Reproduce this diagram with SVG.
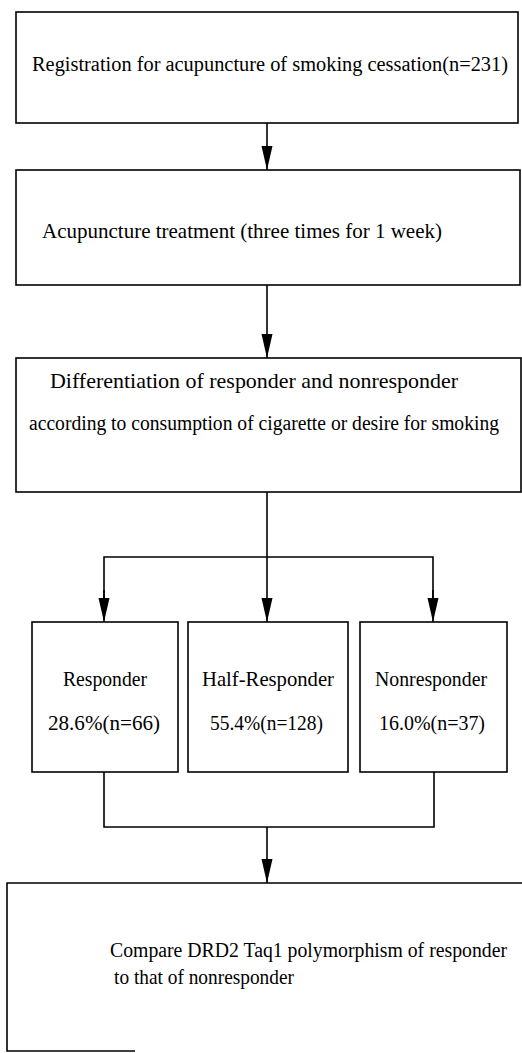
<svg xmlns="http://www.w3.org/2000/svg" width="522" height="1053" viewBox="0 0 522 1053">
<style>
.box{fill:#fff;stroke:#000;stroke-width:1.6}
.t{font-family:'Liberation Serif','Times New Roman','DejaVu Serif',serif;font-size:21px;fill:#000}
.s{font-size:20px}
.ln{fill:none;stroke:#000;stroke-width:1.6}
</style>
<defs>
<marker id="ad" markerUnits="userSpaceOnUse" markerWidth="26" markerHeight="14" refX="24" refY="7" orient="auto" viewBox="0 0 26 14">
<path d="M0,1.5 L24,7 L0,12.5 Z" fill="#000"/>
</marker>
</defs>
<g id="connectors">
<line class="ln" x1="267" y1="123" x2="267" y2="170" marker-end="url(#ad)"/>
<line class="ln" x1="267" y1="285" x2="267" y2="358" marker-end="url(#ad)"/>
<line class="ln" x1="267" y1="492" x2="267" y2="622" marker-end="url(#ad)"/>
<polyline class="ln" points="104,598 104,557 433,557 433,598"/>
<line class="ln" x1="104" y1="590" x2="104" y2="622" marker-end="url(#ad)"/>
<line class="ln" x1="433" y1="590" x2="433" y2="622" marker-end="url(#ad)"/>
<polyline class="ln" points="104,772 104,827 434,827 434,772"/>
<line class="ln" x1="267" y1="827" x2="267" y2="883" marker-end="url(#ad)"/>
</g>
<g id="n1">
<rect class="box" x="16" y="12" width="502" height="111"/>
<text class="t s" x="32" y="71" textLength="476" lengthAdjust="spacingAndGlyphs">Registration for acupuncture of smoking cessation(n=231)</text>
</g>
<g id="n2">
<rect class="box" x="16" y="170" width="504" height="115"/>
<text class="t" x="42" y="238" textLength="400" lengthAdjust="spacingAndGlyphs">Acupuncture treatment (three times for 1 week)</text>
</g>
<g id="n3">
<rect class="box" x="16" y="358" width="505" height="134"/>
<text class="t" x="50" y="388" textLength="408" lengthAdjust="spacingAndGlyphs">Differentiation of responder and nonresponder</text>
<text class="t s" x="29" y="430" textLength="470" lengthAdjust="spacingAndGlyphs">according to consumption of cigarette or desire for smoking</text>
</g>
<g id="n4">
<rect class="box" x="32" y="622" width="146" height="150"/>
<text class="t" x="63" y="686" textLength="84" lengthAdjust="spacingAndGlyphs">Responder</text>
<text class="t" x="48" y="730" textLength="112" lengthAdjust="spacingAndGlyphs">28.6%(n=66)</text>
</g>
<g id="n5">
<rect class="box" x="188" y="622" width="160" height="150"/>
<text class="t" x="202" y="686" textLength="132" lengthAdjust="spacingAndGlyphs">Half-Responder</text>
<text class="t" x="210" y="730" textLength="113" lengthAdjust="spacingAndGlyphs">55.4%(n=128)</text>
</g>
<g id="n6">
<rect class="box" x="360" y="622" width="147" height="150"/>
<text class="t" x="375" y="686" textLength="112" lengthAdjust="spacingAndGlyphs">Nonresponder</text>
<text class="t" x="379" y="730" textLength="106" lengthAdjust="spacingAndGlyphs">16.0%(n=37)</text>
</g>
<g id="n7">
<path class="ln" d="M522,883 H7 V1051 H135"/>
<text class="t s" x="110" y="957" textLength="397" lengthAdjust="spacingAndGlyphs">Compare DRD2 Taq1 polymorphism of responder</text>
<text class="t" x="114" y="984" textLength="180" lengthAdjust="spacingAndGlyphs">to that of nonresponder</text>
</g>
</svg>
